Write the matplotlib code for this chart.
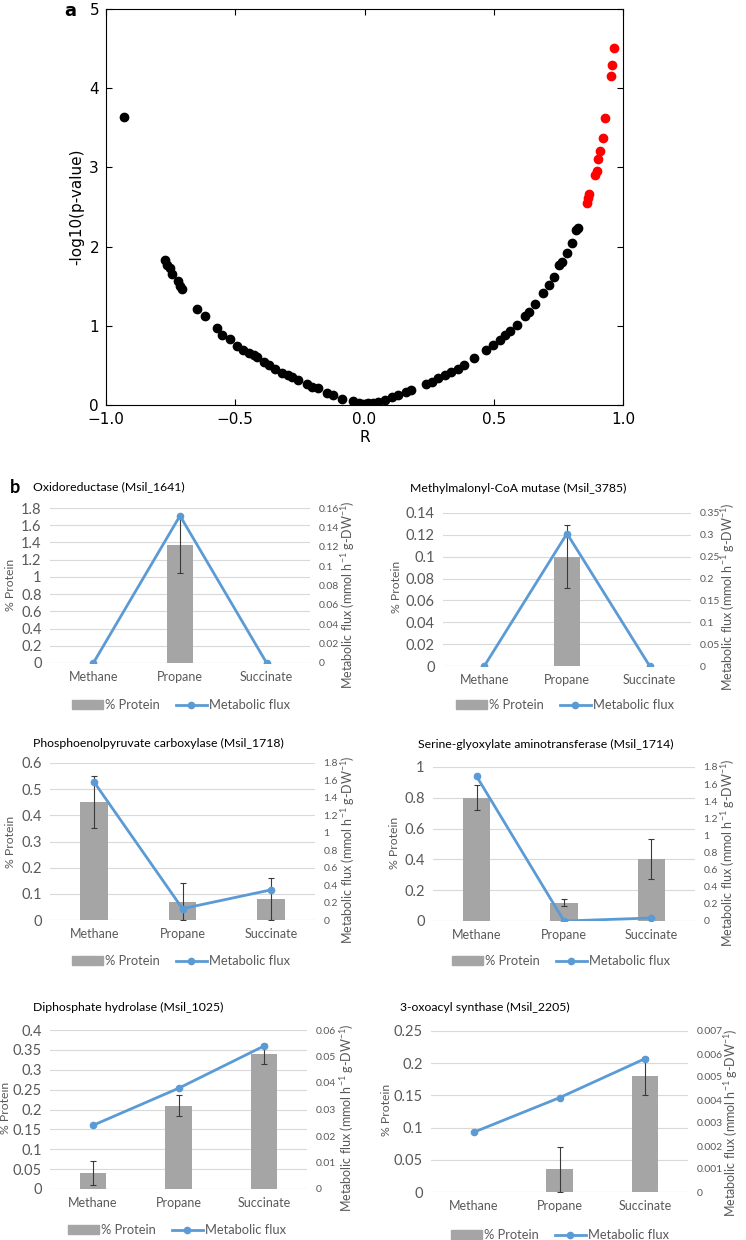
import matplotlib
matplotlib.use('Agg')
import matplotlib.pyplot as plt
import numpy as np
from matplotlib.patches import Patch
from matplotlib.lines import Line2D

# ---- panel a : correlation volcano ----
r_black = [-0.931, -0.773, -0.764, -0.754, -0.743, -0.720, -0.712, -0.706, -0.647, -0.617,
           -0.572, -0.550, -0.522, -0.492, -0.470, -0.446, -0.429, -0.414, -0.390, -0.371,
           -0.345, -0.321, -0.297, -0.280, -0.256, -0.224, -0.204, -0.181, -0.144, -0.120,
           -0.088, -0.046, -0.023, -0.005, 0.014, 0.033, 0.051,
           0.079, 0.107, 0.131, 0.159, 0.178, 0.237, 0.260, 0.284, 0.312, 0.336,
           0.362, 0.386, 0.423, 0.470, 0.498, 0.526, 0.544, 0.563, 0.591, 0.619,
           0.637, 0.661, 0.689, 0.712, 0.734, 0.754, 0.764, 0.782, 0.801, 0.819, 0.827]
p_black = [3.635, 1.83, 1.77, 1.73, 1.66, 1.56, 1.50, 1.47, 1.21, 1.12,
           0.97, 0.89, 0.83, 0.75, 0.70, 0.66, 0.63, 0.60, 0.54, 0.51,
           0.46, 0.41, 0.38, 0.35, 0.32, 0.27, 0.23, 0.21, 0.15, 0.12,
           0.08, 0.05, 0.03, 0.01, 0.02, 0.03, 0.04,
           0.06, 0.10, 0.12, 0.16, 0.19, 0.26, 0.29, 0.34, 0.38, 0.42,
           0.46, 0.51, 0.59, 0.70, 0.76, 0.82, 0.88, 0.93, 1.01, 1.12,
           1.18, 1.28, 1.41, 1.52, 1.62, 1.77, 1.81, 1.92, 2.05, 2.21, 2.23]
r_red = [0.860, 0.866, 0.870, 0.890, 0.898, 0.905, 0.912, 0.922, 0.931, 0.953, 0.957, 0.964]
p_red = [2.55, 2.61, 2.67, 2.90, 2.96, 3.10, 3.21, 3.37, 3.62, 4.15, 4.29, 4.51]

# ---- panel b : protein abundance vs metabolic flux ----
categories = ['Methane', 'Propane', 'Succinate']
titles = ['Oxidoreductase (Msil_1641)',
          'Methylmalonyl-CoA mutase (Msil_3785)',
          'Phosphoenolpyruvate carboxylase (Msil_1718)',
          'Serine-glyoxylate aminotransferase (Msil_1714)',
          'Diphosphate hydrolase (Msil_1025)',
          '3-oxoacyl synthase (Msil_2205)']
protein = [[0, 1.37, 0], [0, 0.10, 0], [0.45, 0.07, 0.08],
           [0.80, 0.12, 0.40], [0.04, 0.21, 0.34], [0, 0.035, 0.18]]
protein_err = [[0, 0.32, 0], [0, 0.029, 0], [0.10, 0.07, 0.08],
               [0.08, 0.02, 0.13], [0.03, 0.027, 0.026], [0, 0.035, 0.03]]
flux = [[0, 0.152, 0], [0, 0.303, 0], [1.58, 0.13, 0.345],
        [1.69, 0.0, 0.035], [0.024, 0.038, 0.054], [0.0026, 0.0041, 0.0058]]
left_top = [1.8, 0.14, 0.6, 1.0, 0.4, 0.25]
left_step = [0.2, 0.02, 0.1, 0.2, 0.05, 0.05]
right_top = [0.16, 0.35, 1.8, 1.8, 0.06, 0.007]
right_step = [0.02, 0.05, 0.2, 0.2, 0.01, 0.001]

W, H = 746, 1240

def box(x0, y0, x1, y1):
    """pixel box -> figure fraction rect"""
    return [x0 / W, 1 - y1 / H, (x1 - x0) / W, (y1 - y0) / H]

def fx(x):
    return x / W

def fy(y):
    return 1 - y / H

fig = plt.figure(figsize=(W / 100, H / 100), dpi=100)

# Scatter (classic matplotlib look)
ax = fig.add_axes(box(106, 9, 623, 405))
ax.scatter(r_black, p_black, s=36, color='black', zorder=3)
ax.scatter(r_red, p_red, s=36, color='red', zorder=3)
ax.set_xlim(-1.0, 1.0)
ax.set_ylim(0, 5)
ax.set_xticks([-1.0, -0.5, 0.0, 0.5, 1.0])
ax.set_xticklabels(['\u22121.0', '\u22120.5', '0.0', '0.5', '1.0'])
ax.set_yticks([0, 1, 2, 3, 4, 5])
ax.tick_params(direction='in', top=True, right=True, length=4, labelsize=11, pad=5)
ax.set_xlabel('R', fontsize=11, labelpad=2)
ax.set_ylabel('-log10(p-value)', fontsize=11, labelpad=4)
fig.text(fx(70), fy(11), 'a', fontsize=13, fontweight='bold', ha='center', va='center')

# Layout of the six small charts (pixels)
axes_px = [(50, 508, 310, 663), (443, 513, 691, 666),
           (50, 763, 315, 920), (433, 767, 695, 921),
           (50, 1030, 307, 1189), (431, 1031, 688, 1192)]
title_px = [(33, 487), (410, 488), (33, 743), (418, 744), (33, 1007), (400, 1007)]
lylab_px = [(11, 585), (396, 587), (11, 842), (395, 843), (6, 1108), (386, 1110)]
rylab_px = [(348, 595), (728, 597), (348, 850), (728, 853), (347, 1118), (731, 1123)]
legend_px = [(181, 705), (565, 705), (181, 961), (561, 961), (177, 1230), (560, 1235)]

fam = ['Lato', 'DejaVu Sans']
bar_color = '#a5a5a5'
line_color = '#5b9bd5'
txt_gray = '#595959'
plt.rcParams['mathtext.default'] = 'regular'

def fmt(v):
    return format(round(v, 6), 'g')

xx = np.arange(len(categories))
for i in range(6):
    a1 = fig.add_axes(box(*axes_px[i]))
    a2 = a1.twinx()
    a1.set_zorder(1)
    a2.set_zorder(2)
    a1.bar(xx, protein[i], width=0.31, color=bar_color, zorder=2)
    err = np.array(protein_err[i])
    keep = err > 0
    a1.errorbar(xx[keep], np.array(protein[i])[keep], yerr=err[keep], fmt='none',
                ecolor='#3a3a3a', elinewidth=0.8, capsize=2, capthick=0.8, zorder=3)
    a2.plot(xx, flux[i], color=line_color, lw=2, marker='o', ms=4.5)

    a1.set_xlim(-0.5, 2.5)
    a1.set_ylim(0, left_top[i])
    a2.set_ylim(0, right_top[i])
    lt = np.arange(0, left_top[i] + left_step[i] / 2, left_step[i])
    rt = np.arange(0, right_top[i] + right_step[i] / 2, right_step[i])
    a1.set_yticks(lt)
    a1.set_yticklabels([fmt(v) for v in lt], family=fam, fontsize=10.5, color=txt_gray)
    a2.set_yticks(rt)
    a2.set_yticklabels([fmt(v) for v in rt], family=fam, fontsize=7.5, color=txt_gray)
    a1.set_xticks(xx)
    a1.set_xticklabels(categories, family=fam, fontsize=9, color=txt_gray)
    a1.tick_params(length=0, pad=6)
    a1.tick_params(axis='y', pad=6)
    a2.tick_params(length=0, pad=6)
    a1.grid(axis='y', color='#d9d9d9', lw=0.8, zorder=0)
    a1.set_axisbelow(True)
    for sp in list(a1.spines.values()) + list(a2.spines.values()):
        sp.set_visible(False)
    a1.axhline(0, color='#d9d9d9', lw=0.8, zorder=1)

    tx, ty = title_px[i]
    fig.text(fx(tx), fy(ty), titles[i], family=fam, fontsize=8.8, ha='left', va='center')
    lx, ly = lylab_px[i]
    fig.text(fx(lx), fy(ly), '% Protein', family=fam, fontsize=8.8, color=txt_gray,
             rotation=90, ha='center', va='center')
    rx, ry = rylab_px[i]
    fig.text(fx(rx), fy(ry), 'Metabolic flux (mmol h$^{-1}$ g-DW$^{-1}$)', family=fam,
             fontsize=9, color=txt_gray, rotation=90, ha='center', va='center')
    gx, gy = legend_px[i]
    handles = [Patch(color=bar_color), Line2D([], [], color=line_color, lw=2, marker='o', ms=4.5)]
    fig.legend(handles, ['% Protein', 'Metabolic flux'], loc='center',
               bbox_to_anchor=(fx(gx), fy(gy)), ncol=2, frameon=False,
               prop={'family': fam, 'size': 9.3}, labelcolor=txt_gray,
               handlelength=2.4, handleheight=0.6, columnspacing=1.2, handletextpad=0.2)

fig.text(fx(15), fy(487), 'b', fontsize=13, fontweight='bold', ha='center', va='center',
         family=fam)

fig.savefig('out.png', dpi=100)
